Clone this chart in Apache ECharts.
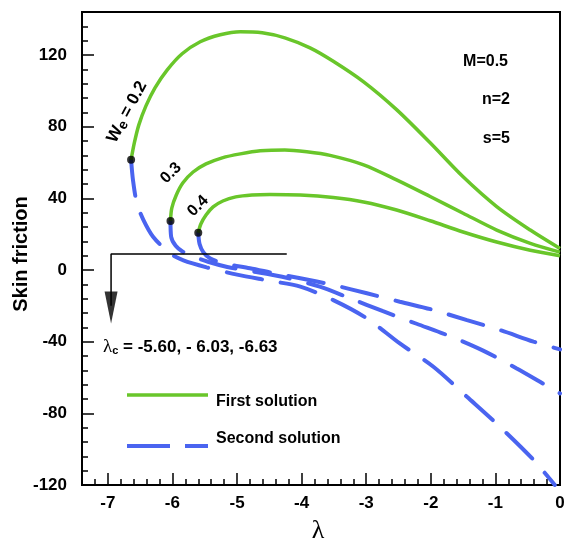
<!DOCTYPE html>
<html>
<head>
<meta charset="utf-8">
<script src="https://cdn.jsdelivr.net/npm/echarts@6/dist/echarts.min.js"></script>
<style>
  html, body { margin: 0; padding: 0; background: #fff; }
  #main { width: 566px; height: 543px; }
</style>
</head>
<body>
<div id="main"></div>
<script>
// first solution (upper branch), [lambda, skin friction]
const first02 = [[-6.64,61.5],[-6.59,70.9],[-6.52,81],[-6.41,91.6],[-6.27,101.7],[-6.08,111.7],[-5.85,120.7],[-5.57,127.4],[-5.26,131.3],[-4.95,133],[-4.61,132.4],[-4.26,129.6],[-3.87,124],[-3.51,116.5],[-3.04,105],[-2.53,89.5],[-2.01,71],[-1.50,52],[-0.98,35.4],[-0.46,22.3],[0,12]]
const first03 = [[-6.03,27.4],[-6.01,34.6],[-5.94,41.9],[-5.84,48.6],[-5.68,54.7],[-5.48,59.2],[-5.23,62.6],[-4.95,64.8],[-4.64,66.5],[-4.26,67],[-3.92,66],[-3.56,64],[-3.04,58.7],[-2.53,50.3],[-2.01,41],[-1.50,31.7],[-0.98,22.3],[-0.46,14.9],[0,10]]
const first04 = [[-5.60,20.8],[-5.56,25.7],[-5.48,30.7],[-5.37,35.2],[-5.22,38.5],[-5.02,40.8],[-4.77,41.9],[-4.49,42.2],[-4.02,41.9],[-3.51,40.5],[-3.04,38],[-2.53,33.5],[-2.01,27.5],[-1.50,21.2],[-0.98,15.6],[-0.46,11],[0,8]]
// second solution (lower branch)
const second02 = [[-6.64,61.5],[-6.61,50],[-6.55,37.2],[-6.45,28],[-6.30,18.6],[-6.04,9.3],[-5.83,5.4],[-5.47,1.5],[-5.00,-2.6],[-4.50,-6],[-4.02,-9.3],[-3.51,-16.8],[-2.99,-27],[-2.48,-41],[-1.96,-54],[-1.44,-70.8],[-0.93,-87.5],[-0.41,-106],[-0.08,-120]]
const second03 = [[-6.03,27.4],[-6.02,18.6],[-5.95,13.5],[-5.84,10.2],[-5.68,7.6],[-5.45,4.6],[-5.15,1.7],[-4.80,-0.5],[-4.30,-3.8],[-3.72,-9.3],[-3.25,-15.8],[-2.74,-23],[-2.22,-30],[-1.70,-37],[-1.19,-45],[-0.67,-55],[-0.31,-62.4],[0,-68.9]]
const second04 = [[-5.60,20.8],[-5.58,14.5],[-5.52,9.8],[-5.42,6.5],[-5.21,3.7],[-4.80,1],[-4.40,-2],[-4.02,-4.6],[-3.51,-8.4],[-2.99,-13],[-2.48,-17.7],[-1.96,-22.3],[-1.44,-28],[-0.93,-33.5],[-0.41,-40],[0,-44.3]]
// critical points
const dots = [[-6.64,61.5],[-6.03,27.4],[-5.60,20.8]]
// annotation arrow
const arrowPath = [[-4.23,8.9],[-6.95,8.9],[-6.95,-20]]
const arrowHead = [[-6.95,-20.9]]

const xMajor = [-7,-6,-5,-4,-3,-2,-1,0]
const yMajor = [-120,-80,-40,0,40,80,120]

const green = '#69c62a'
const blue = '#4a64f0'
const font = '"Liberation Sans", Arial, sans-serif'

const myChart = echarts.init(document.getElementById('main'))

function firstLine(d){
    return { type:'line', data:d, symbol:'none', smooth:0.3, z:3,
        lineStyle:{ color:green, width:3.5 } }
}
function secondLine(d){
    return { type:'line', data:d, symbol:'none', smooth:0.3, z:2,
        lineStyle:{ color:blue, width:4, type:[36,19], cap:'round' } }
}

myChart.setOption({
    animation:false,
    grid:{ left:82, right:6, top:12, bottom:58, outerBoundsMode:'none', containLabel:false,
        show:true, borderColor:'#000', borderWidth:2 },
    xAxis:[
        {
            type:'value', min:-7.4, max:0, interval:0.2, position:'bottom',
            axisLine:{ onZero:false, lineStyle:{ color:'#000', width:2 } },
            axisTick:{ inside:true, length:6, lineStyle:{ color:'#000', width:1.5 } },
            axisLabel:{ margin:10, fontSize:17, fontWeight:'bold', color:'#000', fontFamily:font,
                formatter:v => Math.abs(v - Math.round(v)) < 1e-6 ? String(Math.round(v)) : '' },
            splitLine:{ show:false }
        },
        {
            type:'value', min:-7.4, max:0, position:'bottom',
            axisLine:{ show:false, onZero:false },
            axisTick:{ inside:true, length:12, customValues:xMajor, lineStyle:{ color:'#000', width:1.5 } },
            axisLabel:{ show:false },
            splitLine:{ show:false }
        }
    ],
    yAxis:[
        {
            type:'value', min:-120, max:144, interval:8, position:'left',
            axisLine:{ onZero:false, lineStyle:{ color:'#000', width:2 } },
            axisTick:{ inside:true, length:6, lineStyle:{ color:'#000', width:1.5 } },
            axisLabel:{ margin:15, fontSize:17, fontWeight:'bold', color:'#000', fontFamily:font,
                formatter:v => (v % 40 === 0 && v <= 120) ? String(v) : '' },
            splitLine:{ show:false }
        },
        {
            type:'value', min:-120, max:144, position:'left',
            axisLine:{ show:false, onZero:false },
            axisTick:{ inside:true, length:12, customValues:yMajor, lineStyle:{ color:'#000', width:1.5 } },
            axisLabel:{ show:false },
            splitLine:{ show:false }
        }
    ],
    series:[
        secondLine(second02),
        secondLine(second03),
        secondLine(second04),
        firstLine(first02),
        firstLine(first03),
        firstLine(first04),
        { type:'line', data:arrowPath, symbol:'none', z:4,
          lineStyle:{ color:'#000', width:1.5 } },
        { type:'scatter', data:arrowHead, symbol:'triangle', symbolSize:[13,32], symbolRotate:180, z:4,
          itemStyle:{ color:'#000' } },
        { type:'scatter', data:dots, symbol:'circle', symbolSize:8, z:5,
          itemStyle:{ color:'#000' } }
    ],
    graphic:[
        // axis titles
        { type:'text', x:318, y:531, z:10,
          style:{ text:'λ', align:'center', verticalAlign:'middle', fontSize:26, fontFamily:'"Liberation Serif", serif', fill:'#000' } },
        { type:'text', x:21, y:254, rotation:Math.PI/2, z:10,
          style:{ text:'Skin friction', align:'center', verticalAlign:'middle', fontSize:20, fontWeight:'bold', fontFamily:font, fill:'#000' } },
        // curve labels
        { type:'text', x:127, y:112, rotation:62*Math.PI/180, z:10,
          style:{ text:'{a|W}{b|e}{a| = 0.2}', align:'center', verticalAlign:'middle',
            rich:{ a:{ fontSize:17, fontWeight:'bold', fontFamily:font, fill:'#000' },
                   b:{ fontSize:14, fontWeight:'bold', fontFamily:font, fill:'#000', padding:[6,0,0,0] } } } },
        { type:'text', x:171, y:173, rotation:45*Math.PI/180, z:10,
          style:{ text:'0.3', align:'center', verticalAlign:'middle', fontSize:16, fontWeight:'bold', fontFamily:font, fill:'#000' } },
        { type:'text', x:198, y:206, rotation:45*Math.PI/180, z:10,
          style:{ text:'0.4', align:'center', verticalAlign:'middle', fontSize:16, fontWeight:'bold', fontFamily:font, fill:'#000' } },
        { type:'text', x:508, y:62, z:10,
          style:{ text:'M=0.5', align:'right', verticalAlign:'middle', fontSize:16, fontWeight:'bold', fontFamily:font, fill:'#000' } },
        { type:'text', x:510, y:100, z:10,
          style:{ text:'n=2', align:'right', verticalAlign:'middle', fontSize:16, fontWeight:'bold', fontFamily:font, fill:'#000' } },
        { type:'text', x:510, y:139, z:10,
          style:{ text:'s=5', align:'right', verticalAlign:'middle', fontSize:16, fontWeight:'bold', fontFamily:font, fill:'#000' } },
        { type:'text', x:103, y:347, z:10,
          style:{ text:'{l|λ}{c|c}{t| = -5.60, - 6.03, -6.63}', align:'left', verticalAlign:'middle',
            rich:{ l:{ fontSize:19, fontFamily:'"Liberation Serif", serif', fill:'#000' },
                   c:{ fontSize:11, fontWeight:'bold', fontFamily:font, fill:'#000', padding:[8,0,0,0] },
                   t:{ fontSize:17, fontWeight:'bold', fontFamily:font, fill:'#000' } } } },
        // legend
        { type:'line', shape:{ x1:127, y1:395, x2:208, y2:395 }, z:10,
          style:{ stroke:green, lineWidth:3.5 } },
        { type:'text', x:216, y:402, z:10,
          style:{ text:'First solution', align:'left', verticalAlign:'middle', fontSize:16, fontWeight:'bold', fontFamily:font, fill:'#000' } },
        { type:'line', shape:{ x1:127, y1:446, x2:208, y2:446 }, z:10,
          style:{ stroke:blue, lineWidth:4, lineDash:[43,15] } },
        { type:'text', x:216, y:439, z:10,
          style:{ text:'Second solution', align:'left', verticalAlign:'middle', fontSize:16, fontWeight:'bold', fontFamily:font, fill:'#000' } }
    ]
})
</script>
</body>
</html>
